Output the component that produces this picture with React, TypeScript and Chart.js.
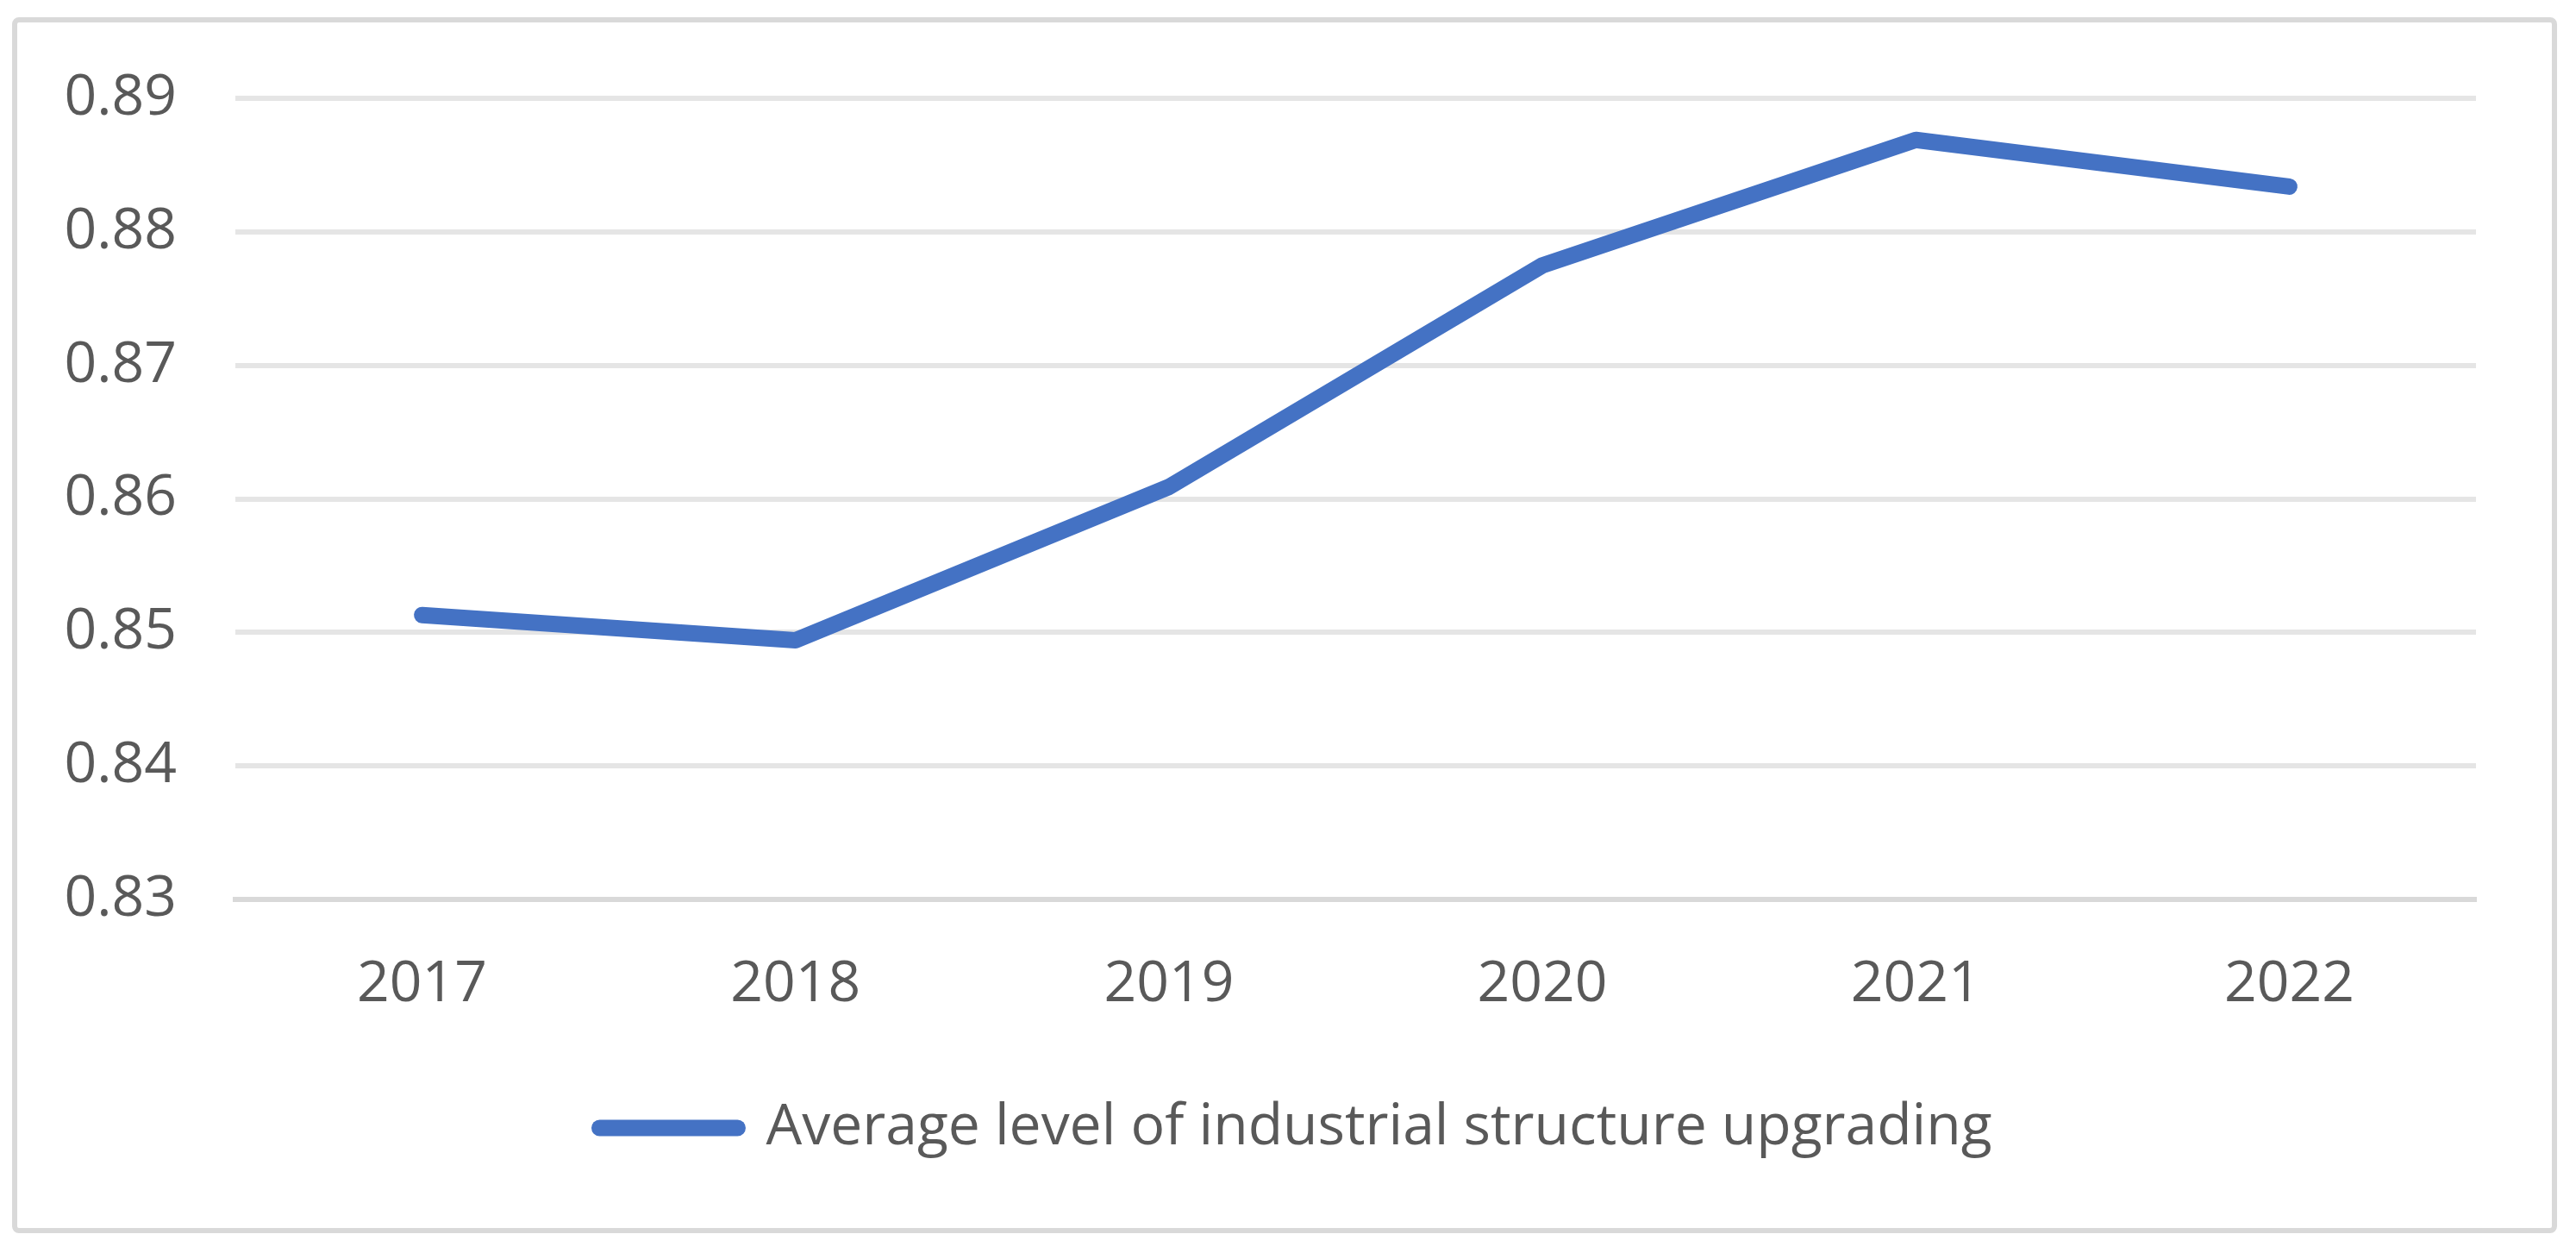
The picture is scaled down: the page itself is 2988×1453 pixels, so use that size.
import { useEffect, useRef } from 'react';
import { Chart, registerables } from 'chart.js';

Chart.register(...registerables);

const years = ['2017', '2018', '2019', '2020', '2021', '2022'];
const upgradingLevel = [0.8513, 0.8494, 0.8609, 0.8775, 0.8869, 0.8834];
const seriesLabel = 'Average level of industrial structure upgrading';
const yMin = 0.83;
const yMax = 0.89;
const yStep = 0.01;

const FONT = "'Open Sans', 'Noto Sans', sans-serif";
const TEXT = '#595959';
const BLUE = '#4472C4';
const LINE_W = 19;

const borderPlugin = {
  id: 'outerBorder',
  beforeDraw(chart: any) {
    const { ctx } = chart;
    ctx.save();
    ctx.strokeStyle = '#d9d9d9';
    ctx.lineWidth = 6;
    ctx.beginPath();
    if (ctx.roundRect) ctx.roundRect(17, 23, 2946, 1404, 5);
    else ctx.rect(17, 23, 2946, 1404);
    ctx.stroke();
    ctx.restore();
  },
};

export default function App() {
  const ref = useRef<HTMLCanvasElement | null>(null);

  useEffect(() => {
    if (!ref.current) return;
    const chart = new Chart(ref.current, {
      type: 'line',
      data: {
        labels: years,
        datasets: [
          {
            label: seriesLabel,
            data: upgradingLevel,
            borderColor: BLUE,
            backgroundColor: BLUE,
            borderWidth: LINE_W,
            borderCapStyle: 'round',
            borderJoinStyle: 'round',
            pointRadius: 0,
            pointHoverRadius: 0,
            tension: 0,
            fill: false,
            yAxisID: 'y',
          },
        ],
      },
      options: {
        animation: false,
        responsive: true,
        maintainAspectRatio: false,
        devicePixelRatio: 1,
        layout: { padding: { left: 60, right: 42, top: 114.3, bottom: 102 } },
        scales: {
          x: {
            offset: true,
            grid: { display: false, drawTicks: false },
            border: { display: true, color: '#d9d9d9', width: 6 },
            ticks: {
              color: TEXT,
              font: { family: FONT, size: 66 },
              padding: 60,
              maxRotation: 0,
              autoSkip: false,
            },
          },
          y: {
            position: 'left',
            min: yMin,
            max: yMax,
            afterFit(scale: any) {
              scale.width = 213;
            },
            grid: { color: '#e5e5e5', lineWidth: 6, drawTicks: false },
            border: { display: false },
            ticks: {
              stepSize: yStep,
              color: TEXT,
              font: { family: FONT, size: 66 },
              padding: 68,
              callback: (v: any) => Number(v).toFixed(2),
            },
          },
          yRightSpace: {
            position: 'right',
            display: true,
            min: yMin,
            max: yMax,
            afterFit(scale: any) {
              scale.width = 74;
            },
            grid: { display: false, drawTicks: false },
            border: { display: false },
            ticks: { display: false },
          },
        },
        plugins: {
          tooltip: { enabled: false },
          legend: {
            position: 'bottom',
            labels: {
              usePointStyle: true,
              pointStyleWidth: 160,
              padding: 33,
              color: TEXT,
              font: { family: FONT, size: 66 },
              generateLabels: (c: any) =>
                Chart.defaults.plugins.legend.labels.generateLabels(c).map((it: any) => ({
                  ...it,
                  pointStyle: 'line',
                  lineWidth: LINE_W,
                  lineCap: 'round',
                  strokeStyle: BLUE,
                  fillStyle: BLUE,
                  rotation: 0,
                })),
            },
          },
        },
      },
      plugins: [borderPlugin],
    } as any);
    let alive = true;
    document.fonts?.ready.then(() => {
      if (alive) chart.update();
    });
    return () => {
      alive = false;
      chart.destroy();
    };
  }, []);

  return (
    <div style={{ position: 'fixed', left: 0, top: 0, width: 2988, height: 1453, background: '#fff' }}>
      <canvas ref={ref} />
    </div>
  );
}
